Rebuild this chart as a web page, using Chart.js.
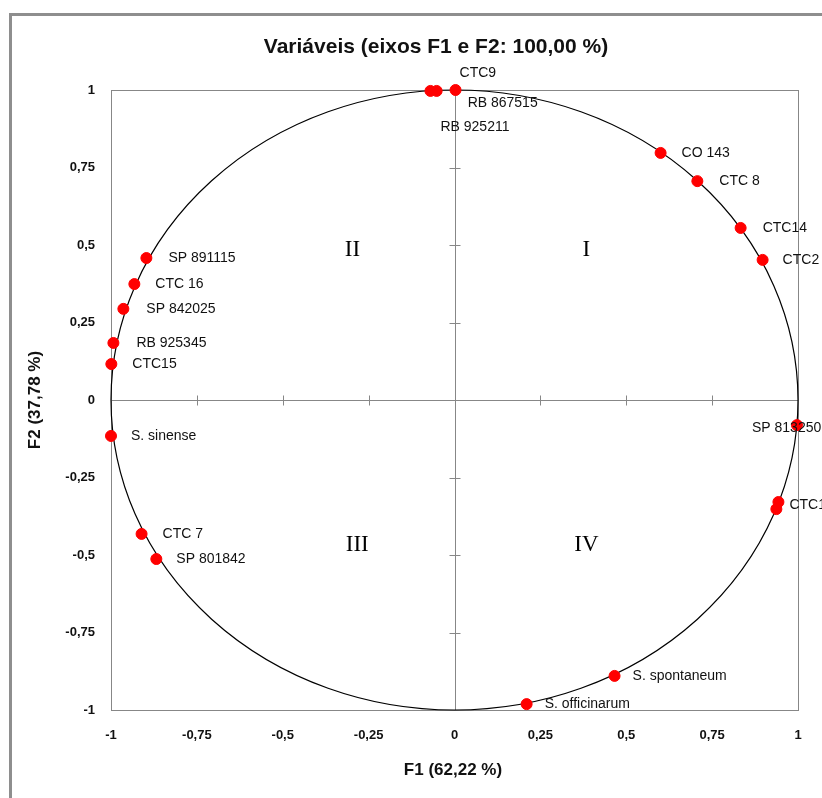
<!DOCTYPE html>
<html>
<head>
<meta charset="utf-8">
<script src="https://cdn.jsdelivr.net/npm/chart.js@4.4.0/dist/chart.umd.min.js"></script>
<style>
body{margin:0;background:#fff}
canvas{display:block}
</style>
</head>
<body>
<canvas id="circleChart" width="822" height="798"></canvas>
<script>
// variables (names, F1, F2)
const varNames=["CTC9","RB 867515","RB 925211","CO 143","CTC 8","CTC14","CTC2",
"SP 891115","CTC 16","SP 842025","RB 925345","CTC15","S. sinense","CTC 7","SP 801842",
"SP 813250","CTC1","","S. spontaneum","S. officinarum"]
const f1Values=[0.003,-0.052,-0.07,0.60,0.707,0.833,0.897,
-0.897,-0.932,-0.964,-0.993,-0.999,-1.0,-0.911,-0.868,
0.997,0.943,0.937,0.466,0.21]
const f2Values=[1.0,0.997,0.997,0.797,0.706,0.555,0.452,
0.458,0.374,0.294,0.184,0.116,-0.116,-0.432,-0.513,
-0.081,-0.329,-0.352,-0.89,-0.981]

// label offsets in px (style, not data)
const labelDx=[4,31,10,21,22,22,20,22,21,23,23,21,20,21,20,-45,11,0,18,18]
const labelDy=[-17,12,36,0,0,0,0,0,0,0,0,0,0,0,0,3,3,0,0,0]

// quadrant labels
const quadNames=["I","II","III","IV"]
const quadX=[0.384,-0.297,-0.283,0.384]
const quadY=[0.484,0.484,-0.468,-0.468]

const tickValues=[-1,-0.75,-0.5,-0.25,0,0.25,0.5,0.75,1]

const titleText="Variáveis (eixos F1 e F2: 100,00 %)"
const xTitle="F1 (62,22 %)"
const yTitle="F2 (37,78 %)"

const points=f1Values.map((v,i)=>({x:v,y:f2Values[i]}))

function fmt(v){
return String(v).replace(".",",")
}

const AXIS_GRAY="#878787"

const decorPlugin={
id:"decor",
beforeDraw(chart){
const ctx=chart.ctx
const xs=chart.scales.x
const ys=chart.scales.y
const a=chart.chartArea
ctx.save()
ctx.fillStyle="#fff"
ctx.fillRect(0,0,chart.width,chart.height)
// outer frame
ctx.strokeStyle="#8e8e8e"
ctx.lineWidth=3
ctx.beginPath()
ctx.moveTo(10.5,chart.height+5)
ctx.lineTo(10.5,14.5)
ctx.lineTo(chart.width+5,14.5)
ctx.stroke()
// plot box
ctx.strokeStyle=AXIS_GRAY
ctx.lineWidth=1
ctx.strokeRect(Math.round(a.left)+0.5,Math.round(a.top)+0.5,Math.round(a.right-a.left),Math.round(a.bottom-a.top))
// zero axes
const x0=Math.round(xs.getPixelForValue(0))+0.5
const y0=Math.round(ys.getPixelForValue(0))+0.5
ctx.beginPath()
ctx.moveTo(a.left,y0)
ctx.lineTo(a.right,y0)
ctx.moveTo(x0,a.top)
ctx.lineTo(x0,a.bottom)
tickValues.forEach(t=>{
const px=Math.round(xs.getPixelForValue(t))+0.5
ctx.moveTo(px,y0-5)
ctx.lineTo(px,y0+5)
const py=Math.round(ys.getPixelForValue(t))+0.5
ctx.moveTo(x0-6,py)
ctx.lineTo(x0+5,py)
})
ctx.stroke()
ctx.restore()
},
beforeDatasetsDraw(chart){
const ctx=chart.ctx
const xs=chart.scales.x
const ys=chart.scales.y
const cx=xs.getPixelForValue(0)
const cy=ys.getPixelForValue(0)
const rx=xs.getPixelForValue(1)-cx
const ry=cy-ys.getPixelForValue(1)
ctx.save()
ctx.strokeStyle="#000"
ctx.lineWidth=1.2
ctx.beginPath()
ctx.ellipse(cx,cy,rx,ry,0,0,Math.PI*2)
ctx.stroke()
// quadrant labels
ctx.fillStyle="#000"
ctx.font="23px 'Liberation Serif', serif"
ctx.textAlign="center"
ctx.textBaseline="middle"
quadNames.forEach((q,i)=>{
ctx.fillText(q,xs.getPixelForValue(quadX[i]),ys.getPixelForValue(quadY[i]))
})
ctx.restore()
},
afterDatasetsDraw(chart){
const ctx=chart.ctx
const meta=chart.getDatasetMeta(0)
ctx.save()
ctx.fillStyle="#111"
ctx.font="14px 'Liberation Sans', Arial, sans-serif"
ctx.textAlign="left"
ctx.textBaseline="middle"
meta.data.forEach((el,i)=>{
if(!varNames[i]) return
ctx.fillText(varNames[i],el.x+labelDx[i],el.y+labelDy[i])
})
ctx.restore()
},
afterDraw(chart){
const ctx=chart.ctx
ctx.save()
ctx.fillStyle="#111"
ctx.textAlign="center"
ctx.textBaseline="middle"
ctx.font="bold 21px 'Liberation Sans', Arial, sans-serif"
ctx.fillText(titleText,436,47)
ctx.font="bold 17px 'Liberation Sans', Arial, sans-serif"
ctx.fillText(xTitle,453,770)
ctx.translate(35,400)
ctx.rotate(-Math.PI/2)
ctx.fillText(yTitle,0,0)
ctx.restore()
}
}

const ctx=document.getElementById("circleChart").getContext("2d")

const circleChart=new Chart(ctx,{
type:"scatter",
data:{
datasets:[{
label:"Variáveis",
data:points,
backgroundColor:"#ff0000",
borderColor:"#ff0000",
pointRadius:5.5,
pointHoverRadius:5.5,
clip:false
}]
},
options:{
responsive:false,
animation:false,
events:[],
layout:{padding:{top:90,right:24,left:0,bottom:0}},
plugins:{
legend:{display:false},
title:{display:false},
tooltip:{enabled:false}
},
scales:{
x:{
type:"linear",
min:-1,
max:1,
afterFit(scale){scale.height=88},
afterBuildTicks(scale){scale.ticks=tickValues.map(v=>({value:v}))},
grid:{display:false,drawTicks:false},
border:{display:false},
ticks:{
padding:18,
color:"#111",
font:{family:"'Liberation Sans', Arial, sans-serif",size:13,weight:"bold"},
maxRotation:0,
callback:v=>fmt(v)
}
},
y:{
type:"linear",
min:-1,
max:1,
afterFit(scale){scale.width=111},
afterBuildTicks(scale){scale.ticks=tickValues.map(v=>({value:v}))},
grid:{display:false,drawTicks:false},
border:{display:false},
ticks:{
padding:16,
color:"#111",
font:{family:"'Liberation Sans', Arial, sans-serif",size:13,weight:"bold"},
callback:v=>fmt(v)
}
}
}
},
plugins:[decorPlugin]
})
</script>
</body>
</html>
